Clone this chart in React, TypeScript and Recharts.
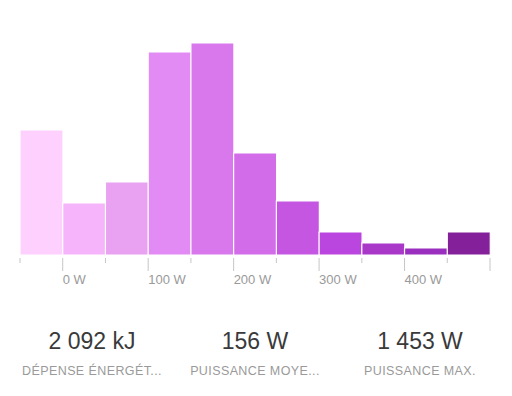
import { BarChart, Bar, XAxis, YAxis, Cell } from "recharts";

// bin centres in watts (50 W bins, first bin is below 0)
const binCenters = [-25, 25, 75, 125, 175, 225, 275, 325, 375, 425, 475];
const binValues = [125, 52, 73, 203, 212, 102, 54, 23, 12, 7, 23];
const binColors = [
  "#fdd0fe", "#f6b4fb", "#e9a1f1", "#e38bf5", "#d978ed", "#d36ce8",
  "#c556e2", "#bb46df", "#a938c9", "#9a2ebe", "#84219a",
];
const tickValues = [-50, 0, 50, 100, 150, 200, 250, 300, 350, 400, 450, 500];
const labelledTicks = [0, 100, 200, 300, 400];

const statValues = ["2 092 kJ", "156 W", "1 453 W"];
const statLabels = ["DÉPENSE ÉNERGÉT...", "PUISSANCE MOYE...", "PUISSANCE MAX."];
const statCenters = [92, 255, 420];

const data = binCenters.map((x, i) => ({ x, value: binValues[i] }));

const font = "'Liberation Sans', Arial, sans-serif";

function PowerTick(props: any) {
  const { x, y, payload } = props;
  const v = payload.value as number;
  const long = v % 100 === 0;
  return (
    <g>
      <line x1={x} x2={x} y1={y + 3} y2={y + (long ? 16 : 8)} stroke="#c6c6c6" strokeWidth={1} />
      {labelledTicks.includes(v) && (
        <text x={x} y={y + 29} textAnchor="start" fill="#9a9a9a" fontSize={13} fontFamily={font}>
          {`${v} W`}
        </text>
      )}
    </g>
  );
}

export default function App() {
  return (
    <div style={{ position: "absolute", left: 0, top: 0, width: 512, height: 396, background: "#fff", fontFamily: font }}>
      <BarChart
        width={512}
        height={300}
        data={data}
        margin={{ top: 43, right: 22, left: 20, bottom: 0 }}
        barCategoryGap={0}
        barGap={0}
      >
        <XAxis
          dataKey="x"
          type="number"
          domain={[-50, 500]}
          ticks={tickValues}
          interval={0}
          axisLine={false}
          tickLine={false}
          tickSize={0}
          tickMargin={0}
          height={45}
          tick={<PowerTick />}
        />
        <YAxis hide domain={[0, 212]} />
        <Bar dataKey="value" isAnimationActive={false} stroke="#ffffff" strokeWidth={1.2}>
          {data.map((d, i) => (
            <Cell key={d.x} fill={binColors[i]} />
          ))}
        </Bar>
      </BarChart>
      {statValues.map((s, i) => (
        <div
          key={s}
          style={{
            position: "absolute",
            left: statCenters[i] - 90,
            width: 180,
            top: 328,
            textAlign: "center",
            fontSize: 23,
            color: "#3a3a3a",
            lineHeight: "26px",
          }}
        >
          {s}
        </div>
      ))}
      {statLabels.map((s, i) => (
        <div
          key={s}
          style={{
            position: "absolute",
            left: statCenters[i] - 90,
            width: 180,
            top: 363,
            textAlign: "center",
            fontSize: 12.5,
            letterSpacing: 0.4,
            color: "#9a9a9a",
            lineHeight: "16px",
          }}
        >
          {s}
        </div>
      ))}
    </div>
  );
}
